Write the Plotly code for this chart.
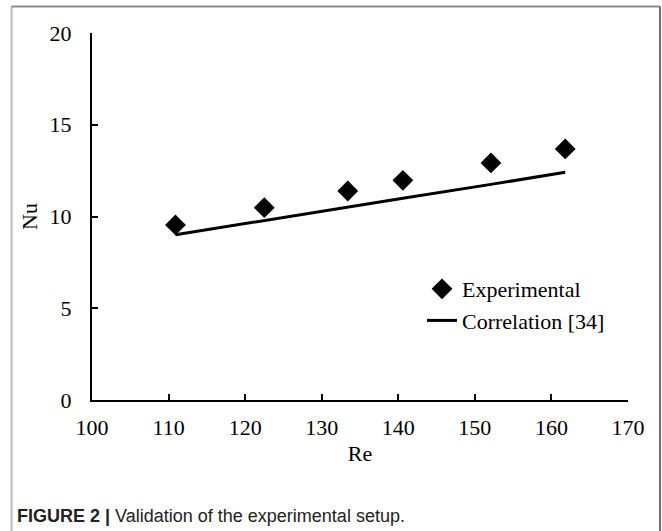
import plotly.graph_objects as go

# Data
re_exp = [110.9, 122.5, 133.4, 140.6, 152.1, 161.8]
nu_exp = [9.54, 10.48, 11.39, 11.97, 12.92, 13.68]
re_corr = [110.9, 122.5, 133.4, 140.6, 152.1, 161.8]
nu_corr = [9.0, 9.79, 10.5, 11.0, 11.75, 12.41]
x_ticks = [100, 110, 120, 130, 140, 150, 160, 170]
y_ticks = [0, 5, 10, 15, 20]

W, H = 662, 531
L, R, T, B = 92, 628, 33, 400  # plot area pixel box


def px(x):
    return (x - L) / (R - L)


def py(y):
    return (B - y) / (B - T)


serif = "Liberation Serif, Times New Roman, serif"

fig = go.Figure()
fig.add_trace(go.Scatter(
    x=re_exp, y=nu_exp, mode="markers", name="Experimental",
    marker=dict(symbol="diamond", size=16, color="black"),
))
fig.add_trace(go.Scatter(
    x=re_corr, y=nu_corr, mode="lines", name="Correlation [34]",
    line=dict(color="black", width=3),
))

axis_common = dict(
    showline=True, linewidth=2, linecolor="black",
    ticks="inside", ticklen=6, tickwidth=2, tickcolor="black",
    showgrid=False, zeroline=False,
    tickfont=dict(family=serif, size=22, color="black"),
)

fig.update_layout(
    width=W, height=H,
    margin=dict(l=L, r=W - R, t=T, b=H - B, pad=0),
    paper_bgcolor="white", plot_bgcolor="white",
    xaxis=dict(range=[100, 170], tickvals=x_ticks, ticktext=[str(v) for v in x_ticks],
               ticklabelstandoff=7,
               title=dict(text="Re", font=dict(family=serif, size=22, color="black"), standoff=6),
               **axis_common),
    yaxis=dict(range=[0, 20], tickvals=y_ticks, ticktext=[str(v) for v in y_ticks],
               ticklabelstandoff=14,
               title=dict(text="Nu", font=dict(family=serif, size=22, color="black"), standoff=6),
               **axis_common),
    legend=dict(
        x=px(422), y=py(268), xanchor="left", yanchor="top",
        font=dict(family=serif, size=22, color="black"),
        bgcolor="rgba(0,0,0,0)", tracegroupgap=0, itemwidth=30,
    ),
    showlegend=True,
)

# Caption
fig.add_annotation(
    xref="paper", yref="paper", x=px(15), y=py(516), xanchor="left", yanchor="middle",
    text="<b>FIGURE 2 |</b> Validation of the experimental setup.",
    showarrow=False, font=dict(family="Liberation Sans, Arial, sans-serif", size=18, color="#222222"),
)

# Outer frame
fig.add_shape(type="line", xref="paper", yref="paper", x0=px(11.5), x1=px(11.5), y0=py(6.5), y1=py(531),
              line=dict(color="#bdbdbd", width=2))
fig.add_shape(type="line", xref="paper", yref="paper", x0=px(11.5), x1=px(660), y0=py(6.5), y1=py(6.5),
              line=dict(color="#8a8a8a", width=2))
fig.add_shape(type="line", xref="paper", yref="paper", x0=px(660), x1=px(660), y0=py(6.5), y1=py(531),
              line=dict(color="#707070", width=2))

fig.write_html("out.html")
